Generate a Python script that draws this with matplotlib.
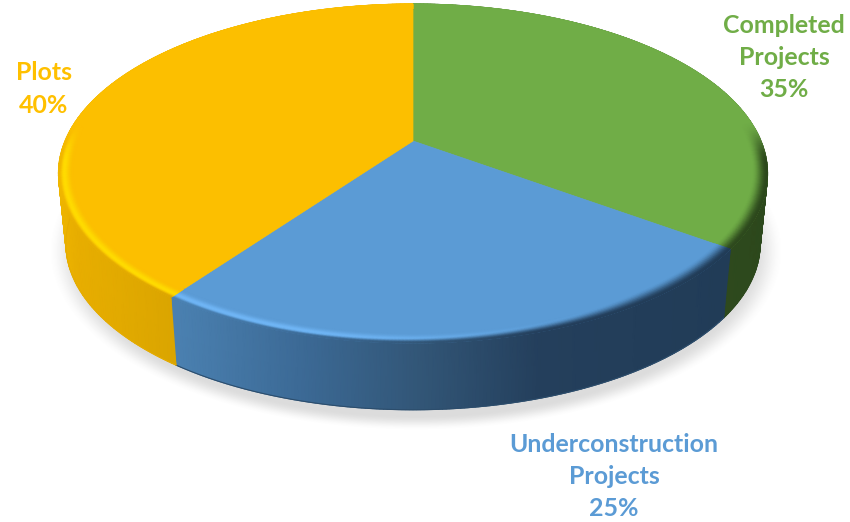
import matplotlib
matplotlib.use('Agg')
import matplotlib.pyplot as plt
import numpy as np
from matplotlib.patches import Polygon

categories = ['Completed\nProjects', 'Underconstruction\nProjects', 'Plots']
shares = [35, 25, 40]

top_colors = ['#70ad47', '#5b9bd5', '#fcbf00']
text_colors = ['#70ad47', '#5b9bd5', '#ffc000']
rim_colors = ['#7cb850', '#70b6f6', '#ffdc00']

# disc geometry in pixels, with perspective on the depth axis
CX, CY = 413, 141
R, B, K = 348, 163.3, 0.1917
DEPTH, BASE_SCALE = 71, 0.979
BEVEL = 0.955

plt.rcParams['font.family'] = ['Lato', 'DejaVu Sans']


def rgb(color):
    return np.array(matplotlib.colors.to_rgb(color))


def smooth(a):
    a = np.clip(a, 0, 1)
    return a * a * (3 - 2 * a)


def project(theta, r=1.0):
    # theta runs clockwise from twelve o'clock, in degrees
    t = np.radians(theta)
    u, v = r * np.sin(t), r * np.cos(t)
    den = 1 + K * v
    return CX + R * u / den, CY - B * v / den


def base_of(x, y):
    return CX + (x - CX) * BASE_SCALE, CY + DEPTH + (y - CY) * BASE_SCALE


def side_color(i, x):
    # vertical wall shading depends on the horizontal position
    if i == 0:
        stops = [(700, '#2f4a1e'), (770, '#2c481c')]
    elif i == 1:
        stops = [(180, '#4a80b0'), (300, '#3c6a96'), (420, '#325677'),
                 (540, '#243f5c'), (730, '#213c57')]
    else:
        stops = [(55, '#f2b900'), (75, '#e8ae00'), (185, '#d9a400')]
    xs = [s[0] for s in stops]
    cols = np.array([rgb(s[1]) for s in stops])
    return np.stack([np.interp(x, xs, cols[:, c]) for c in range(3)], axis=-1)


def bevel_color(i, theta, t, x):
    # t is 0 on the flat face side of the bevel and 1 on the outer edge
    light = np.clip(np.cos(np.radians(theta - 235)) * 1.3, 0, 1)
    facing = smooth((0.12 - np.cos(np.radians(theta))) * 4)
    hi = light * facing * np.sin(np.pi * np.clip(t, 0, 1) ** 1.6) ** 2
    col = rgb(top_colors[i]) + (rgb(rim_colors[i]) - rgb(top_colors[i])) * hi[..., None]
    # the edge rolls over into the wall, earlier where the light is weak
    start = 0.1 + 0.65 * light
    roll = facing * smooth((t - start) / (1 - start))
    return col + (side_color(i, x) - col) * roll[..., None]


fig = plt.figure(figsize=(8.5, 5.22), dpi=100)
ax = fig.add_axes([0, 0, 1, 1])
ax.set_xlim(0, 850)
ax.set_ylim(522, 0)
ax.axis('off')

# soft shadow under the disc
gx, gy = np.meshgrid(np.arange(850) + 0.5, np.arange(522) + 0.5)
dist = np.hypot((gx - 416) / 352, (gy - 251) / 172)
shadow = np.zeros((522, 850, 4))
shadow[..., :3] = 0.45
shadow[..., 3] = 0.25 * smooth((1.0 - dist) / 0.09 + 0.5)
ax.imshow(shadow, extent=(0, 850, 522, 0), aspect='auto', zorder=1)

edges = np.concatenate([[0], np.cumsum(shares)]) / np.sum(shares) * 360

for i in range(len(shares)):
    th = np.linspace(edges[i], edges[i + 1], 181)

    # outer wall
    x0, y0 = project(th)
    x1, y1 = base_of(x0, y0)
    walls = np.linspace(0, 1, 2)
    X = np.outer(1 - walls, x0) + np.outer(walls, x1)
    Y = np.outer(1 - walls, y0) + np.outer(walls, y1)
    ax.pcolormesh(X, Y, side_color(i, X), shading='gouraud', zorder=2)
    # thin stroke keeps the lower silhouette smooth
    front = np.cos(np.radians(th)) < 0.1
    ax.plot(x1[front], y1[front], color=side_color(i, np.array([x1[front].mean()]))[0],
            lw=0.8, zorder=2)

for i in range(len(shares)):
    th = np.linspace(edges[i], edges[i + 1], 181)

    # flat face of the slice
    x0, y0 = project(th)
    pts = np.column_stack([np.r_[CX, x0], np.r_[CY, y0]])
    ax.add_patch(Polygon(pts, closed=True, facecolor=top_colors[i],
                         edgecolor=top_colors[i], lw=0.5, zorder=3))

    # rounded rim around the face
    ts = np.linspace(0, 1, 17)
    tt, rr = np.meshgrid(th, BEVEL + (1 - BEVEL) * ts)
    X, Y = project(tt, rr)
    tg = np.broadcast_to(ts[:, None], tt.shape)
    ax.pcolormesh(X, Y, bevel_color(i, tt, tg, X), shading='gouraud', zorder=4)

label_style = dict(fontsize=17.9, fontweight='bold', ha='center', va='center',
                   linespacing=1.49, zorder=5)
ax.text(784, 57.5, f'{categories[0]}\n{shares[0]}%', color=text_colors[0], **label_style)
ax.text(614, 476.5, f'{categories[1]}\n{shares[1]}%', color=text_colors[1], **label_style)
ax.text(44, 89, f'{categories[2]}\n{shares[2]}%', color=text_colors[2], **label_style)

fig.savefig('out.png', dpi=100)
